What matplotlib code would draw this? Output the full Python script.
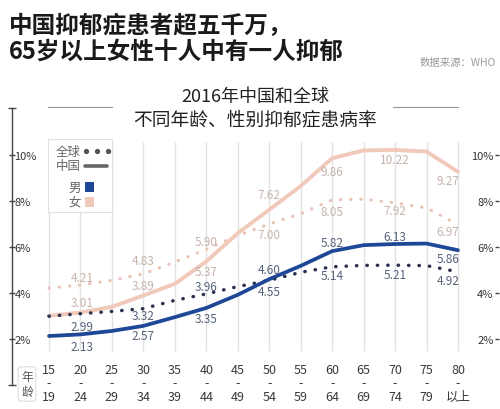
import matplotlib
matplotlib.use('Agg')
import matplotlib.pyplot as plt
from matplotlib.lines import Line2D
from matplotlib.patches import Rectangle

plt.rcParams['font.family'] = ['Noto Sans CJK SC', 'DejaVu Sans']

## data (percent)
age_from = ['15', '20', '25', '30', '35', '40', '45', '50', '55', '60', '65', '70', '75', '80']
age_to = ['19', '24', '29', '34', '39', '44', '49', '54', '59', '64', '69', '74', '79', '以上']
china_male = [2.13, 2.20, 2.35, 2.57, 2.95, 3.35, 3.92, 4.60, 5.18, 5.82, 6.08, 6.13, 6.15, 5.86]
global_male = [2.99, 3.10, 3.20, 3.32, 3.68, 3.96, 4.28, 4.55, 4.90, 5.14, 5.20, 5.21, 5.19, 4.92]
china_female = [3.01, 3.15, 3.40, 3.89, 4.40, 5.37, 6.60, 7.62, 8.65, 9.86, 10.20, 10.22, 10.15, 9.27]
global_female = [4.21, 4.35, 4.55, 4.83, 5.35, 5.90, 6.50, 7.00, 7.45, 8.05, 8.08, 7.92, 7.70, 6.97]
labelled = [0, 3, 5, 7, 9, 11, 13]
yticks = [2, 4, 6, 8, 10]

## colours
BLUE = '#1f4797'
NAVY = '#2b3350'
PINK = '#f1c9bb'
PINK_DOT = '#e9c3b6'
LAB_M = '#56627a'
LAB_F = '#c6b3ab'

W, H = 500, 410
def fx(x): return x / W
def fy(y): return 1 - y / H

fig = plt.figure(figsize=(5, 4.1), dpi=100)
fig.patch.set_facecolor('white')

## axes: 0% at y=386px, 23px per percent; x index 0 at 49px, step 31.46px
ax = fig.add_axes([fx(12), fy(386), 487 / W, 277 / H])
ax.set_ylim(0, 277 / 23)
ax.set_xlim((12 - 49) / 31.46, (499 - 49) / 31.46)
ax.patch.set_alpha(0)

x = list(range(len(age_from)))
ax.vlines(x, 1.48, 10.57, color='#e2e2e2', lw=1, zorder=0)

ax.plot(x, global_female, color=PINK_DOT, lw=2.3, ls=(0, (0.1, 3.1)),
        dash_capstyle='round', zorder=2)
ax.plot(x, china_female, color=PINK, lw=2.8, solid_capstyle='round', zorder=2)
ax.plot(x, global_male, color=NAVY, lw=2.5, ls=(0, (0.1, 2.9)),
        dash_capstyle='round', zorder=3)
ax.plot(x, china_male, color=BLUE, lw=2.7, solid_capstyle='round', zorder=3)

## value labels, offsets in pixels (style only)
dys = {
    'cm': [-10, -10, -11, 10, 9, 8, -8],
    'gm': [-10, -7, 7, -11, -9, -9, -9],
    'cf': [13, 10, -10, 15, -13, -10, -9],
    'gf': [11, 13, 8, -11, -12, -8, -7],
}
series = [('cm', china_male, LAB_M), ('gm', global_male, LAB_M),
          ('cf', china_female, LAB_F), ('gf', global_female, LAB_F)]
for key, vals, col in series:
    for k, i in enumerate(labelled):
        dx = 33 if i == 0 else (-10 if i == len(x) - 1 else 0)
        ax.annotate('%.2f' % vals[i], (i, vals[i]), xytext=(dx, dys[key][k]),
                    textcoords='offset pixels', ha='center', va='center',
                    fontsize=8.5, color=col, zorder=4)

## left axis
for s in ['top', 'right', 'bottom']:
    ax.spines[s].set_visible(False)
ax.spines['left'].set_color('#444444')
ax.spines['left'].set_linewidth(1)
ax.set_yticks(yticks)
ax.set_yticklabels(['%d%%' % t for t in yticks])
ax.tick_params(axis='y', direction='inout', length=5, width=1, color='#444444',
               pad=-4.2, labelsize=8, labelcolor='#333333')
for lbl in ax.get_yticklabels():
    lbl.set_ha('left')
ax.plot([0, 0], [0, 1], transform=ax.transAxes, ls='none', marker='_', ms=6,
        mew=1, color='#444444', clip_on=False)

## x tick labels in two rows
ax.set_xticks(x)
ax.set_xticklabels([a + '\n-\n' + b for a, b in zip(age_from, age_to)],
                   linespacing=1.05)
ax.tick_params(axis='x', length=0, pad=-16, labelsize=9, labelcolor='#3a3a3a')

## right axis
ax2 = ax.twinx()
ax2.set_ylim(ax.get_ylim())
for s in ['top', 'right', 'bottom', 'left']:
    ax2.spines[s].set_visible(False)
ax2.yaxis.tick_left()
ax2.spines['left'].set_position(('axes', 1.0))
ax2.set_yticks(yticks)
ax2.set_yticklabels(['%d%%' % t for t in yticks])
ax2.tick_params(axis='y', direction='out', length=3, width=1, color='#444444',
                pad=1, labelsize=8, labelcolor='#333333')

## 年龄 box
fig.text(fx(27), fy(385), '年\n龄', ha='center', va='center', fontsize=8.5,
         color='#555555', linespacing=1.25,
         bbox=dict(boxstyle='round,pad=0.25', fc='white', ec='#dddddd', lw=0.8))

## titles
fig.text(fx(9), fy(26), '中国抑郁症患者超五千万，', ha='left', va='center',
         fontsize=17, fontweight='bold', color='#1a1a1a')
fig.text(fx(9), fy(52), '65岁以上女性十人中有一人抑郁', ha='left', va='center',
         fontsize=17, fontweight='bold', color='#1a1a1a')
fig.text(fx(496), fy(63), '数据来源：WHO', ha='right', va='center',
         fontsize=7.5, color='#9a9a9a')
fig.text(fx(255), fy(97), '2016年中国和全球', ha='center', va='center',
         fontsize=13, color='#222222')
fig.text(fx(255), fy(120), '不同年龄、性别抑郁症患病率', ha='center', va='center',
         fontsize=13.5, color='#222222')
for x0, x1 in [(48, 112), (393, 458)]:
    fig.add_artist(Line2D([fx(x0), fx(x1)], [fy(108), fy(108)], color='#999999', lw=0.8))

## legend box
fig.add_artist(Rectangle((fx(48), fy(213)), 64 / W, 73 / H, fc='white',
                         ec='#e0e0e0', lw=0.8, zorder=5))
fig.text(fx(81), fy(152), '全球', ha='right', va='center', fontsize=9,
         color='#666666', zorder=6)
fig.text(fx(81), fy(167), '中国', ha='right', va='center', fontsize=9,
         color='#666666', zorder=6)
fig.text(fx(81), fy(188), '男', ha='right', va='center', fontsize=9,
         color='#666666', zorder=6)
fig.text(fx(81), fy(203), '女', ha='right', va='center', fontsize=9,
         color='#666666', zorder=6)
fig.add_artist(Line2D([fx(86), fx(97), fx(108)], [fy(152)] * 3, ls='none',
                      marker='o', ms=2.8, color='#555555', zorder=6))
fig.add_artist(Line2D([fx(85), fx(107)], [fy(167)] * 2, lw=2.6, color='#666666',
                      solid_capstyle='round', zorder=6))
fig.add_artist(Rectangle((fx(85), fy(193)), 9 / W, 10 / H, fc=BLUE, ec='none', zorder=6))
fig.add_artist(Rectangle((fx(85), fy(208)), 9 / W, 10 / H, fc=PINK, ec='none', zorder=6))

fig.savefig('out.png', dpi=100)
